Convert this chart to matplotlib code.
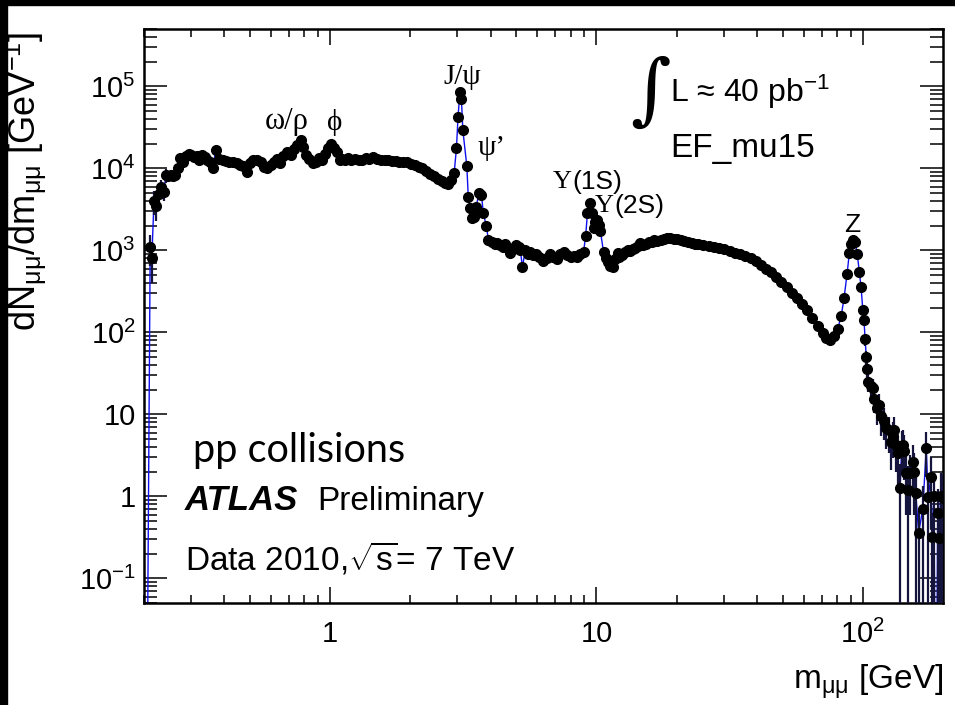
import numpy as np
import matplotlib
matplotlib.use('Agg')
import matplotlib.pyplot as plt
from matplotlib.patches import Rectangle
from matplotlib.ticker import FixedLocator, FixedFormatter, LogLocator, NullFormatter

plt.rcParams['font.family'] = ['Liberation Sans', 'DejaVu Sans']
plt.rcParams['mathtext.fontset'] = 'custom'
plt.rcParams['mathtext.rm'] = 'Liberation Sans'
plt.rcParams['mathtext.it'] = 'Liberation Sans:italic'
plt.rcParams['mathtext.bf'] = 'Liberation Sans:bold'

# threshold region (error bars visible)
m_low = [0.206, 0.211, 0.214, 0.218, 0.222, 0.227, 0.232, 0.237, 0.242]
v_low = [0.01, 1100, 800, 4000, 3500, 4800, 5900, 5200, 8200]
e_low = [0, 450, 400, 1300, 1200, 1400, 1400, 1200, 1500]

# bulk of the spectrum
m_mid = [0.247, 0.252, 0.257, 0.262, 0.268, 0.273, 0.280, 0.287, 0.294, 0.301,
         0.308, 0.316, 0.322, 0.330, 0.338, 0.346, 0.355, 0.362, 0.372, 0.382,
         0.395, 0.405, 0.418, 0.432, 0.445, 0.458, 0.472, 0.488, 0.500, 0.515,
         0.532, 0.548, 0.565, 0.580, 0.598, 0.613, 0.630, 0.648, 0.668, 0.690,
         0.710, 0.730, 0.752, 0.778, 0.792, 0.812, 0.835, 0.862, 0.885, 0.910,
         0.935, 0.960, 0.985, 1.005, 1.035, 1.060, 1.085, 1.11, 1.14, 1.17,
         1.20, 1.24, 1.28, 1.32, 1.36, 1.40, 1.45, 1.50, 1.55, 1.60,
         1.65, 1.70, 1.76, 1.82, 1.88, 1.95, 2.01, 2.08, 2.15, 2.22,
         2.30, 2.38, 2.46, 2.54, 2.62, 2.70, 2.78, 2.85, 2.92, 2.98,
         3.02, 3.07, 3.11, 3.15, 3.26, 3.30, 3.35, 3.40, 3.46, 3.53,
         3.62, 3.70, 3.76, 3.86, 3.93, 4.05, 4.15, 4.24, 4.35, 4.45,
         4.55, 4.63, 4.75, 4.85, 5.00, 5.10, 5.18, 5.27, 5.40, 5.52,
         5.65, 5.80, 5.95, 6.10, 6.32, 6.50, 6.70, 6.89, 7.10, 7.30,
         7.52, 7.75, 8.00, 8.25, 8.48, 8.70, 8.94, 9.10, 9.25, 9.42,
         9.60, 9.75, 9.88, 10.02, 10.18, 10.35, 10.63, 10.81, 11.0, 11.2,
         11.5, 11.75, 12.0, 12.2, 12.5, 12.8, 13.1, 13.4, 13.7, 14.0,
         14.3, 14.6, 14.9, 15.3, 15.7, 16.1, 16.5, 16.9, 17.4, 17.9,
         18.4, 18.9, 19.5, 20.1, 20.7, 21.4, 22.1, 22.8, 23.5, 24.0,
         25.2, 26.4, 27.6, 28.9, 30.2, 31.6, 33.1, 34.6, 36.2, 37.9,
         39.6, 41.4, 43.3, 45.3, 47.3, 49.5, 51.8, 54.1, 56.6, 59.2,
         61.9, 64.7, 67.6, 70.7, 73.0, 75.5, 78.0, 80.5, 83.0, 85.0,
         87.3, 89.0, 90.5, 92.0, 93.6, 95.3, 97.0, 98.5]
v_mid = [8000, 8400, 8100, 8300, 10000, 13500, 12000, 14000, 15000, 14500,
         13800, 14000, 12500, 14400, 13800, 12800, 12000, 10000, 16500, 13000,
         12500, 12200, 12000, 11800, 11500, 11000, 10800, 8900, 11500, 12500,
         12500, 11800, 10500, 10000, 11000, 12000, 13000, 11500, 14000, 15700,
         14500, 17000, 19000, 22000, 18000, 14500, 13000, 11500, 12000, 13500,
         12500, 15000, 17500, 20000, 17500, 16000, 12500, 13000, 12800, 13200,
         12500, 13000, 12800, 12600, 13300, 12900, 13600, 13000, 12800, 12500,
         12600, 12200, 12400, 12000, 11800, 11800, 11300, 11000, 10500, 10000,
         9300, 8600, 8000, 7400, 7000, 6600, 6400, 7200, 8700, 17500,
         42000, 85000, 70000, 29000, 10600, 4500, 3250, 2450, 2530, 3350,
         4950, 4700, 2830, 1960, 1330, 1250, 1200, 1220, 1150, 1100,
         1200, 1090, 920, 1050, 1150, 1100, 1000, 620, 1000, 900,
         950, 870, 900, 820, 750, 800, 900, 820, 780, 900,
         950, 870, 820, 850, 820, 900, 950, 1480, 2830, 3750,
         2830, 1850, 2200, 2320, 2050, 1700, 950, 800, 720, 650,
         620, 780, 920, 820, 880, 950, 1000, 980, 1050, 1080,
         1120, 1220, 1150, 1180, 1250, 1260, 1330, 1290, 1320, 1380,
         1430, 1400, 1390, 1380, 1350, 1300, 1280, 1230, 1200, 1180,
         1160, 1120, 1100, 1060, 1030, 990, 940, 890, 850, 800,
         740, 670, 600, 540, 470, 410, 355, 305, 260, 220,
         185, 150, 120, 98, 85, 80, 90, 110, 160, 260,
         520, 930, 1180, 1330, 1250, 900, 550, 355]

# high-mass tail (error bars visible)
m_high = [100, 101, 102, 103, 104, 105, 107, 109, 110, 113,
          115, 117, 120, 122, 125, 128, 130, 131, 133, 135,
          138, 140, 141, 143, 145, 148, 150, 154, 156, 158,
          162, 168, 173, 176, 180, 182, 185, 188, 191, 193,
          196, 200]
v_high = [186, 140, 82, 50, 36, 24.5, 22, 21, 15.4, 12,
          13, 9.5, 8.4, 6.8, 6.4, 4.6, 5.5, 6.5, 4.2, 3.4,
          1.25, 4.0, 4.2, 3.6, 1.9, 1.2, 1.9, 2.6, 2.0, 1.1,
          0.36, 0.7, 3.9, 0.97, 1.7, 0.32, 1.0, 0.0001, 0.63, 0.31,
          1.0, 0.95]
e_high = [25, 20, 14, 10, 8, 6, 6, 6, 5, 4.5,
          4.5, 4, 3.5, 3, 3, 2.5, 2.6, 2.8, 2.2, 2,
          1.2, 2.2, 2.2, 2, 1.3, 1.15, 1.3, 1.6, 1.4, 1.05,
          0.35, 0.65, 2.2, 0.93, 1.3, 0.31, 0.95, 0, 0.6, 0.3,
          0.95, 0.9]

xticks = [1, 10, 100]
xticklabels = ['1', '10', r'$10^{2}$']
yticks = [0.1, 1, 10, 100, 1e3, 1e4, 1e5]
yticklabels = [r'$10^{-1}$', '1', '10', r'$10^{2}$', r'$10^{3}$', r'$10^{4}$', r'$10^{5}$']

W, H = 955, 705


def px(x, y):
    return x / W, 1 - y / H


fig = plt.figure(figsize=(W / 100, H / 100), dpi=100)
fig.patches.append(Rectangle((0, 0), 7 / W, 1, transform=fig.transFigure, color='black', zorder=0))
fig.patches.append(Rectangle((0, 1 - 5 / H), 1, 5 / H, transform=fig.transFigure, color='black', zorder=0))

ax = fig.add_axes([144 / W, 1 - 603 / H, (943 - 144) / W, (603 - 29) / H])
ax.set_xscale('log')
ax.set_yscale('log')
ax.set_xlim(0.2, 200)
ax.set_ylim(0.05, 5e5)

m_all = m_low + m_mid + m_high
v_all = v_low + v_mid + v_high
ax.plot(m_all, v_all, color='#1010ee', lw=1.0, zorder=2)
ax.errorbar(m_low, v_low, yerr=e_low, fmt='none', ecolor='#14143c', elinewidth=1.6, zorder=3)
ax.errorbar(m_high, v_high, yerr=e_high, fmt='none', ecolor='#14143c', elinewidth=1.6, zorder=3)
ax.plot(m_all, v_all, 'o', color='black', ms=7, zorder=4)

ax.xaxis.set_major_locator(FixedLocator(xticks))
ax.xaxis.set_major_formatter(FixedFormatter(xticklabels))
ax.xaxis.set_minor_locator(LogLocator(base=10, subs=range(2, 10), numticks=20))
ax.xaxis.set_minor_formatter(NullFormatter())
ax.yaxis.set_major_locator(FixedLocator(yticks))
ax.yaxis.set_major_formatter(FixedFormatter(yticklabels))
ax.yaxis.set_minor_locator(LogLocator(base=10, subs=range(2, 10), numticks=20))
ax.yaxis.set_minor_formatter(NullFormatter())

ax.tick_params(which='both', direction='in', top=True, right=True, labelsize=21, width=1.1)
ax.tick_params(axis='x', which='major', length=11.5, pad=12)
ax.tick_params(axis='x', which='minor', length=5.8)
ax.tick_params(axis='y', which='major', length=16.6, pad=6)
ax.tick_params(axis='y', which='minor', length=9.4)
for s in ax.spines.values():
    s.set_linewidth(1.8)

# axis titles
fig.text(*px(25, 32), r'dN$_{\mathrm{μμ}}$/dm$_{\mathrm{μμ}}$ [GeV$^{\mathrm{-1}}$]',
         rotation=90, ha='center', va='top', fontsize=26)
fig.text(*px(943, 682), r'm$_{\mathrm{μμ}}$ [GeV]', ha='right', va='center', fontsize=24)

# resonance labels
serif = ['Liberation Serif', 'DejaVu Serif']
fig.text(*px(287, 122), 'ω/ρ', family=serif, fontsize=22, ha='center', va='center')
fig.text(*px(335, 122), 'ϕ', family=serif, fontsize=21, ha='center', va='center')
fig.text(*px(462, 77), 'J/ψ', family=serif, fontsize=21, ha='center', va='center')
fig.text(*px(492, 148), 'ψ’', family=serif, fontsize=21, ha='center', va='center')
fig.text(*px(572, 182), 'Υ', family=serif, fontsize=19, ha='right', va='center')
fig.text(*px(572, 182), '(1S)', fontsize=19, ha='left', va='center')
fig.text(*px(614, 206), 'Υ', family=serif, fontsize=19, ha='right', va='center')
fig.text(*px(614, 206), '(2S)', fontsize=19, ha='left', va='center')
fig.text(*px(852, 225), 'Z', fontsize=19, ha='center', va='center')

# luminosity / trigger
fig.text(*px(650, 93), '∫', family='DejaVu Serif', fontsize=56, ha='center', va='center')
fig.text(*px(670, 102), r'L ≈ 40 pb$^{\mathrm{-1}}$', fontsize=23, ha='left', va='baseline')
fig.text(*px(670, 157), 'EF_mu15', fontsize=24, ha='left', va='baseline')

# ATLAS labels
fig.text(*px(193, 462), 'pp collisions', family=['Lato', 'DejaVu Sans'], fontsize=28.5,
         ha='left', va='baseline')
fig.text(*px(185, 510), 'ATLAS', fontsize=25, fontweight='bold', style='italic',
         ha='left', va='baseline')
fig.text(*px(317, 510), 'Preliminary', fontsize=24, ha='left', va='baseline')
fig.text(*px(185, 570), r'Data 2010,$\sqrt{\mathrm{s}}$= 7 TeV', fontsize=24,
         ha='left', va='baseline')

fig.savefig('out.png', dpi=100)
